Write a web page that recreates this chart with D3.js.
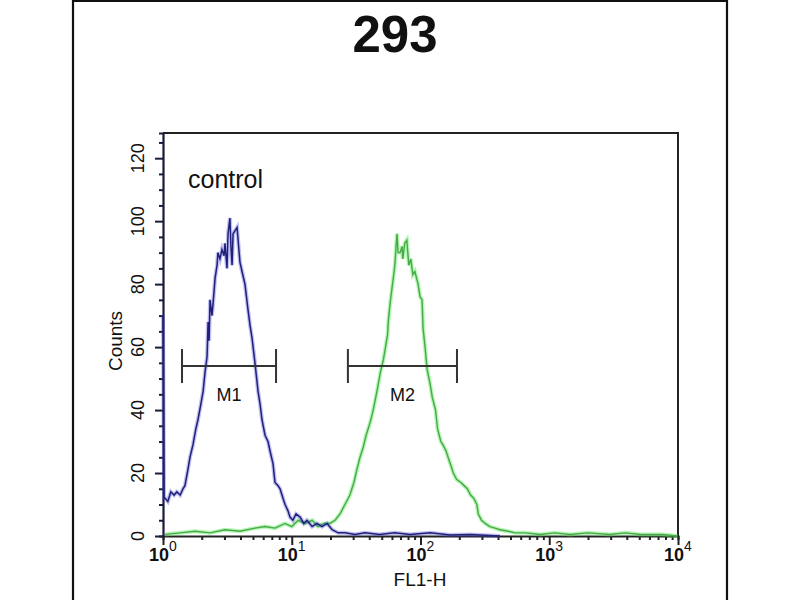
<!DOCTYPE html>
<html><head><meta charset="utf-8">
<script src="https://cdn.jsdelivr.net/npm/d3@7"></script>
<style>body{margin:0;background:#fff} svg{display:block} text{font-family:"Liberation Sans",Arial,sans-serif;fill:#111}</style>
</head><body><svg id="c" width="800" height="600"></svg>
<script>
const title = "293";
const legendLabel = "control";
const xLabel = "FL1-H";
const yLabel = "Counts";

// control (blue) histogram: FL1-H value and counts
const controlFL = [1.0, 1.02, 1.04, 1.09, 1.15, 1.22, 1.28, 1.36, 1.43, 1.48, 1.56, 1.62, 1.71, 1.80, 1.87, 1.97, 2.05, 2.12, 2.20, 2.24, 2.28, 2.32, 2.40, 2.45, 2.54, 2.63, 2.67, 2.77, 2.87, 2.98, 3.03, 3.14, 3.20, 3.31, 3.37, 3.44, 3.50, 3.63, 3.76, 3.83, 3.96, 4.11, 4.33, 4.57, 4.74, 4.91, 5.18, 5.47, 5.67, 5.87, 6.20, 6.54, 6.78, 7.15, 7.41, 7.82, 8.11, 8.55, 8.87, 9.35, 9.69, 10.2, 10.8, 11.6, 12.4, 13.1, 14.4, 15.7, 17.2, 18.8, 20.6, 22.9, 25.9, 31, 37, 48, 63, 83, 119, 170, 243, 414];
const controlCounts = [70, 12, 12, 11, 14, 13, 14, 13, 15, 16, 21, 25, 29, 34, 37, 42, 46, 52, 57, 68, 62, 75, 70, 74, 82, 86, 90, 88, 91, 89, 93, 85, 96, 101, 92, 86, 96, 97, 98, 94, 87, 84, 80, 72, 67, 63, 55, 46, 42, 37, 32, 30, 27, 23, 17, 16, 15, 12, 10, 8, 6, 5, 7, 6, 4, 5, 3, 4, 3, 4, 2, 1, 1, 0.5, 1, 0.5, 1, 0.5, 1, 0.3, 0.5, 0];

// sample (green) histogram
const sampleFL = [1.04, 1.36, 1.77, 2.32, 3.03, 3.96, 5.18, 6.2, 7.41, 8.87, 10.0, 11.2, 12.7, 14.4, 16.0, 17.8, 19.8, 21.7, 23.7, 25.9, 28.3, 30.4, 32.0, 33.9, 35.8, 37.8, 40.6, 42.9, 44.4, 46.9, 48.8, 51.5, 53.5, 55.5, 56.2, 58.1, 60.2, 62.4, 63.5, 64.6, 65.7, 66.9, 69.4, 71.9, 72.8, 75.5, 78.3, 81.1, 84.1, 87.2, 90.4, 95.8, 99.2, 102.9, 104.7, 108.5, 112.5, 119.1, 123.5, 130.9, 135.7, 143.8, 149.1, 158, 163.8, 173.6, 179.9, 190.6, 205.7, 218, 231, 245, 259, 274, 281, 298, 318, 346, 379, 414, 480, 542, 650, 850, 1100, 1450, 2000, 2950, 3900, 5100, 7500, 9900];
const sampleCounts = [0.5, 1, 1.5, 1, 2, 1.5, 2.5, 3, 2.5, 4, 3, 5, 4, 5, 3, 4, 4, 5, 7, 10, 13, 17, 21, 25, 28, 32, 36, 40, 43, 48, 52, 56, 60, 64, 68, 74, 79, 84, 87, 92, 96, 90, 90, 92, 88, 93, 94, 86, 88, 83, 84, 80, 76, 75, 66, 60, 53, 48, 44, 40, 34, 30, 29, 27, 25, 22, 20, 18, 17, 16, 15, 13, 12, 10, 7, 5, 4, 3, 2.5, 2, 1.5, 1, 1, 0.5, 1, 0.5, 1, 0.5, 1, 0.5, 0.5, 0];

const xTickValues = [1, 10, 100, 1000, 10000];
const xTickExponents = ["0", "1", "2", "3", "4"];
const yTickValues = [0, 20, 40, 60, 80, 100, 120];

const markerNames = ["M1", "M2"];
const markerLo = [1.405, 27.3];
const markerHi = [7.55, 192];
const markerLevel = [54, 54];

const svg = d3.select("#c");

// outer frame
svg.append("path").attr("d", "M73,600 V1 H727 V600").attr("fill", "none").attr("stroke", "#111").attr("stroke-width", 2.2);

const x = d3.scaleLog().domain([1, 10000]).range([163, 678]);
const y = d3.scaleLinear().domain([0, 128]).range([536, 133]);

svg.append("text").attr("x", 395).attr("y", 52).attr("text-anchor", "middle")
  .style("font-size", "51px").style("font-weight", "bold").text(title);

// plot frame top/right
svg.append("path").attr("d", `M${x(1)},${y(128)} H${x(10000)} V${y(0)}`).attr("fill", "none").attr("stroke", "#222").attr("stroke-width", 2);

// Y axis
const yAxis = svg.append("g").attr("transform", `translate(${x(1)},0)`);
yAxis.call(d3.axisLeft(y).tickValues(d3.range(0, 129, 5)).tickSize(4).tickFormat(""));
yAxis.selectAll(".tick").filter(d => d % 20 === 0).select("line").attr("x2", -8);
yAxis.selectAll("path,line").attr("stroke", "#1a1a3a").attr("stroke-width", 2);
yAxis.select("path").attr("stroke-width", 2.2);
svg.append("g").selectAll("text").data(yTickValues).join("text")
  .attr("transform", d => `translate(144,${y(d)}) rotate(-90)`)
  .attr("text-anchor", "middle").style("font-size", "18px").text(d => d);
svg.append("text").attr("transform", `translate(122,341) rotate(-90)`).attr("text-anchor", "middle")
  .style("font-size", "19px").text(yLabel);

// X axis
const minorX = [];
xTickValues.slice(0, -1).forEach(v => { for (let k = 2; k <= 9; k++) minorX.push(v * k); });
const xAxis = svg.append("g").attr("transform", `translate(0,${y(0)})`);
xAxis.call(d3.axisBottom(x).tickValues(minorX.concat(xTickValues)).tickSize(4).tickFormat(""));
xAxis.selectAll(".tick").filter(d => xTickValues.includes(d)).select("line").attr("y2", 9);
xAxis.selectAll("path,line").attr("stroke", "#222").attr("stroke-width", 2);
const xl = svg.append("g").selectAll("text").data(xTickValues).join("text")
  .attr("x", d => x(d)).attr("y", 561).attr("text-anchor", "middle").style("font-size", "18px").style("font-weight", "bold");
xl.append("tspan").text("10");
xl.append("tspan").attr("dy", -10).style("font-size", "14px").style("font-weight", "normal").text((d, i) => xTickExponents[i]);
svg.append("text").attr("x", 420).attr("y", 586).attr("text-anchor", "middle").style("font-size", "19px").text(xLabel);

// curves
const line = d3.line().x(d => x(d[0])).y(d => y(d[1]));
const sampleData = sampleFL.map((v, i) => [v, sampleCounts[i]]);
const controlData = controlFL.map((v, i) => [v, controlCounts[i]]);
svg.append("path").datum(sampleData).attr("d", line).attr("fill", "none").attr("stroke", "#55ee55").attr("stroke-opacity", 0.45).attr("stroke-width", 4);
svg.append("path").datum(sampleData).attr("d", line).attr("fill", "none").attr("stroke", "#4aa84a").attr("stroke-width", 1.4);
svg.append("path").datum(controlData).attr("d", line).attr("fill", "none").attr("stroke", "#4a4ad8").attr("stroke-opacity", 0.35).attr("stroke-width", 4);
svg.append("path").datum(controlData).attr("d", line).attr("fill", "none").attr("stroke", "#20207a").attr("stroke-width", 1.5);

// legend label
svg.append("text").attr("x", 188).attr("y", 188).style("font-size", "25px").text(legendLabel);

// markers
const mk = svg.append("g").selectAll("g").data(markerNames).join("g");
mk.append("path").attr("d", (d, i) => {
  const x0 = x(markerLo[i]), x1 = x(markerHi[i]), yy = y(markerLevel[i]);
  return `M${x0},${yy - 17} V${yy + 17} M${x0},${yy} H${x1} M${x1},${yy - 17} V${yy + 17}`;
}).attr("fill", "none").attr("stroke", "#333").attr("stroke-width", 2);
mk.append("text").attr("x", (d, i) => (x(markerLo[i]) + x(markerHi[i])) / 2)
  .attr("y", (d, i) => y(markerLevel[i]) + 35).attr("text-anchor", "middle").style("font-size", "18px").text(d => d);
</script></body></html>
